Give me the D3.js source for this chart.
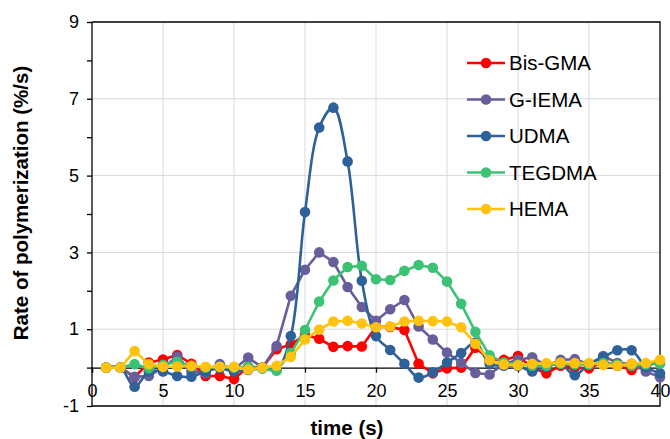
<!DOCTYPE html>
<html>
  <head>
    <meta charset="utf-8">
    <script src="https://cdn.jsdelivr.net/npm/d3@7"></script>
    <style>
    html, body { margin: 0; padding: 0; background: #fff; }
    #vis text { font-family: 'Liberation Sans', Arial, sans-serif; }
    .grid line { stroke: #d9d9d9; stroke-width: 1px; }
    .axis path, .axis line { stroke: #000; stroke-width: 1.3px; }
    .axis text { font-size: 18px; fill: #000; }
    .title { font-size: 20.5px; font-weight: bold; fill: #000; }
    .legend text { font-size: 20.5px; fill: #000; }
    </style>
  </head>
  <body>
    <div id="vis"></div>
    <script>

      // time (s), one reading per second
      var times = d3.range(1, 41);

      var bisGMA = [0, 0, -0.25, 0.13, 0.21, 0.33, 0.1, -0.22, -0.22, -0.3,
                    0.02, 0, 0.48, 0.6, 0.85, 0.75, 0.54, 0.56, 0.55, 1.06,
                    1.06, 0.98, 0.1, -0.15, -0.02, 0, 0.52, 0.21, 0.2, 0.3,
                    0, -0.15, 0.05, 0, -0.02, 0.15, 0.05, -0.06, 0.05, 0.15];
      var gIEMA = [0, 0, -0.24, -0.22, 0, 0.28, -0.1, -0.15, 0.09, -0.04,
                   0.26, 0, 0.56, 1.87, 2.55, 3.0, 2.75, 2.1, 1.58, 1.22,
                   1.52, 1.76, 1.07, 0.73, 0.39, 0.12, -0.14, -0.18, 0.1, 0.2,
                   0.27, 0.05, 0.2, 0.22, 0.08, 0.3, 0.12, 0.1, -0.1, -0.25];
      var udma = [0, 0, -0.5, -0.1, -0.1, -0.22, -0.24, -0.1, -0.02, -0.1,
                  -0.06, -0.02, -0.05, 0.82, 4.05, 6.25, 6.77, 5.37, 2.26, 0.82,
                  0.46, 0.1, -0.26, -0.13, 0.13, 0.38, 0.65, 0.1, 0.05, 0.05,
                  -0.1, 0.02, 0.1, -0.2, 0.1, 0.27, 0.45, 0.45, 0.02, -0.15];
      var tegdma = [0, 0, 0.09, -0.02, 0.07, 0.15, 0.03, 0, 0.02, 0,
                    0.02, -0.02, -0.08, 0.38, 0.98, 1.72, 2.27, 2.62, 2.65, 2.3,
                    2.28, 2.52, 2.67, 2.6, 2.24, 1.66, 0.93, 0.32, 0.13, 0.08,
                    0.05, 0.05, 0.1, 0.08, 0.08, 0.12, 0.08, 0.05, 0.08, 0.1];
      var hema = [0, 0, 0.43, 0.09, 0.02, 0.03, 0.05, 0.02, 0.02, 0.02,
                  -0.05, 0, 0.05, 0.28, 0.73, 0.99, 1.2, 1.22, 1.15, 1.05,
                  1.07, 1.2, 1.22, 1.21, 1.2, 1.05, 0.62, 0.19, 0.08, 0.06,
                  0.1, 0.12, 0.13, 0.12, 0.12, 0.07, 0.05, 0.1, 0.12, 0.2];

      var names = ['Bis-GMA', 'G-IEMA', 'UDMA', 'TEGDMA', 'HEMA'];
      var colors = ['#ff0000', '#665f9c', '#2e6099', '#3cc274', '#ffc20e'];
      var seriesValues = [bisGMA, gIEMA, udma, tegdma, hema];
      var smooth = [false, false, true, false, false];

      var xTicks = d3.range(0, 41, 5);
      var yTicks = d3.range(-1, 10, 1);

      var width = 670;
      var height = 439;

      var x = d3.scaleLinear().domain([0, 40]).range([92, 660]);
      var y = d3.scaleLinear().domain([-1, 9]).range([406, 22]);

      var svg = d3.select('#vis').append('svg')
          .attr('width', width)
          .attr('height', height);

      // gridlines
      var grid = svg.append('g').attr('class', 'grid');
      grid.selectAll('line.v')
          .data(xTicks.filter(function(d) { return d > 0 && d < 40; }))
          .enter().append('line')
          .attr('x1', function(d) { return x(d); })
          .attr('x2', function(d) { return x(d); })
          .attr('y1', y(9))
          .attr('y2', y(-1));
      grid.selectAll('line.h')
          .data([1, 3, 5, 7])
          .enter().append('line')
          .attr('x1', x(0))
          .attr('x2', x(40))
          .attr('y1', function(d) { return y(d); })
          .attr('y2', function(d) { return y(d); });

      // frame (top, right, bottom)
      svg.append('path')
          .attr('d', 'M' + x(0) + ',' + y(9) + 'H' + x(40) + 'V' + y(-1) + 'H' + x(0))
          .attr('fill', 'none')
          .attr('stroke', '#000')
          .attr('stroke-width', 1.3);

      // y axis
      svg.append('g')
          .attr('class', 'axis')
          .attr('transform', 'translate(' + x(0) + ',0)')
          .call(d3.axisLeft(y)
              .tickValues(yTicks)
              .tickSize(5)
              .tickPadding(8)
              .tickFormat(function(d) { return (d % 2) ? d : ''; }))
          .call(function(g) { g.select('.domain').attr('d', 'M0,' + y(9) + 'V' + y(-1)); });

      // x axis sits at y = 0
      svg.append('g')
          .attr('class', 'axis')
          .attr('transform', 'translate(0,' + y(0) + ')')
          .call(d3.axisBottom(x)
              .tickValues(xTicks)
              .tickSize(5)
              .tickPadding(12)
              .tickFormat(d3.format('d')));

      // series
      var line = d3.line()
          .x(function(d) { return x(d[0]); })
          .y(function(d) { return y(d[1]); });

      seriesValues.forEach(function(vals, i) {
          var pts = times.map(function(t, j) { return [t, vals[j]]; });
          svg.append('path')
              .datum(pts)
              .attr('fill', 'none')
              .attr('stroke', colors[i])
              .attr('stroke-width', 2.6)
              .attr('d', line.curve(smooth[i] ? d3.curveCatmullRom.alpha(0.5) : d3.curveLinear));
          svg.selectAll('circle.s' + i)
              .data(pts)
              .enter().append('circle')
              .attr('class', 's' + i)
              .attr('cx', function(d) { return x(d[0]); })
              .attr('cy', function(d) { return y(d[1]); })
              .attr('r', 5.3)
              .attr('fill', colors[i]);
      });

      // legend
      var legend = svg.append('g').attr('class', 'legend');
      names.forEach(function(n, i) {
          var ly = 63 + i * 36.5;
          legend.append('line')
              .attr('x1', 467).attr('x2', 505)
              .attr('y1', ly).attr('y2', ly)
              .attr('stroke', colors[i])
              .attr('stroke-width', 2.6);
          legend.append('circle')
              .attr('cx', 486).attr('cy', ly).attr('r', 5.3)
              .attr('fill', colors[i]);
          legend.append('text')
              .attr('x', 509).attr('y', ly + 7)
              .text(n);
      });

      // axis titles
      svg.append('text')
          .attr('class', 'title')
          .attr('x', 347).attr('y', 435)
          .attr('text-anchor', 'middle')
          .text('time (s)');
      svg.append('text')
          .attr('class', 'title')
          .attr('transform', 'translate(28,203) rotate(-90)')
          .attr('text-anchor', 'middle')
          .text('Rate of polymerization (%/s)');

    </script>
  </body>
</html>
